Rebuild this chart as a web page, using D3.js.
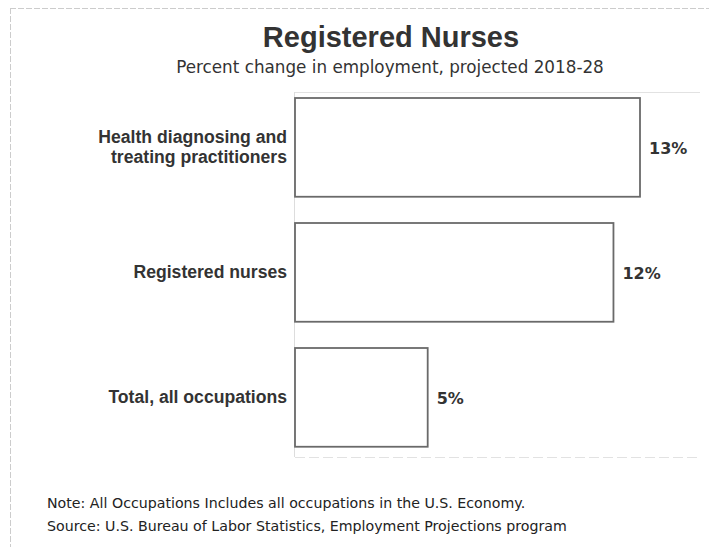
<!DOCTYPE html>
<html><head><meta charset="utf-8">
<script src="https://cdn.jsdelivr.net/npm/d3@7"></script>
<style>body{margin:0;background:#fff}</style>
</head><body>
<svg id="c" width="709" height="547"></svg>
<script>
const categories = [["Health diagnosing and","treating practitioners"],["Registered nurses"],["Total, all occupations"]];
const values = [13, 12, 5];
const valueLabels = ["13%","12%","5%"];
const title = "Registered Nurses";
const subtitle = "Percent change in employment, projected 2018-28";
const notes = ["Note: All Occupations Includes all occupations in the U.S. Economy.",
               "Source: U.S. Bureau of Labor Statistics, Employment Projections program"];

const svg = d3.select("#c");
const x = d3.scaleLinear().domain([0, 13]).range([295, 640]);
const y = d3.scaleBand().domain(d3.range(values.length)).range([71.75, 473]).paddingInner(0.21).paddingOuter(0.21);

// outer frame
svg.append("line").attr("x1",10).attr("x2",709).attr("y1",8.5).attr("y2",8.5).attr("stroke","#ccc").attr("stroke-width",1).attr("stroke-dasharray","6,2");
svg.append("line").attr("x1",10.5).attr("x2",10.5).attr("y1",8).attr("y2",547).attr("stroke","#ccc").attr("stroke-width",1).attr("stroke-dasharray","6,2");

// plot area faint lines
svg.append("line").attr("x1",295).attr("x2",700).attr("y1",92.5).attr("y2",92.5).attr("stroke","#e2e2e2");
svg.append("line").attr("x1",295).attr("x2",700).attr("y1",457.5).attr("y2",457.5).attr("stroke","#e2e2e2").attr("stroke-dasharray","10,4");
svg.append("line").attr("x1",294.5).attr("x2",294.5).attr("y1",92).attr("y2",457).attr("stroke","#ddd");

svg.append("text").attr("x",391).attr("y",47).attr("text-anchor","middle")
  .attr("font-family","Liberation Sans, Arial, sans-serif").attr("font-weight","bold").attr("font-size",29).attr("fill","#333").text(title);
svg.append("text").attr("x",390).attr("y",73).attr("text-anchor","middle")
  .attr("font-family","DejaVu Sans, sans-serif").attr("font-size",16.8).attr("fill","#333").text(subtitle);

const g = svg.append("g");
g.selectAll("rect").data(values).join("rect")
  .attr("x", x(0)).attr("y", (d,i)=>y(i)).attr("width", d=>x(d)-x(0)).attr("height", y.bandwidth())
  .attr("fill","#fff").attr("stroke","#6a6a6a").attr("stroke-width",1.8);

g.selectAll("text.val").data(values).join("text").attr("class","val")
  .attr("x", d=>x(d)+9).attr("y",(d,i)=>y(i)+y.bandwidth()/2+7)
  .attr("font-family","DejaVu Sans, sans-serif").attr("font-weight","bold").attr("font-size",16).attr("fill","#333")
  .text((d,i)=>valueLabels[i]);

categories.forEach((lines,i)=>{
  const t = g.append("text").attr("text-anchor","end")
    .attr("font-family","Liberation Sans, Arial, sans-serif").attr("font-weight","bold").attr("font-size",17.6).attr("fill","#333");
  const cy = y(i)+y.bandwidth()/2;
  const lh = 20;
  lines.forEach((l,j)=>{
    t.append("tspan").attr("x",287).attr("y", cy + 6 + (j - (lines.length-1)/2)*lh).text(l);
  });
});

notes.forEach((n,i)=>{
  svg.append("text").attr("x",47).attr("y",508 + i*23)
    .attr("font-family","DejaVu Sans, sans-serif").attr("font-size",14.2).attr("fill","#222").text(n);
});
</script>
</body></html>
